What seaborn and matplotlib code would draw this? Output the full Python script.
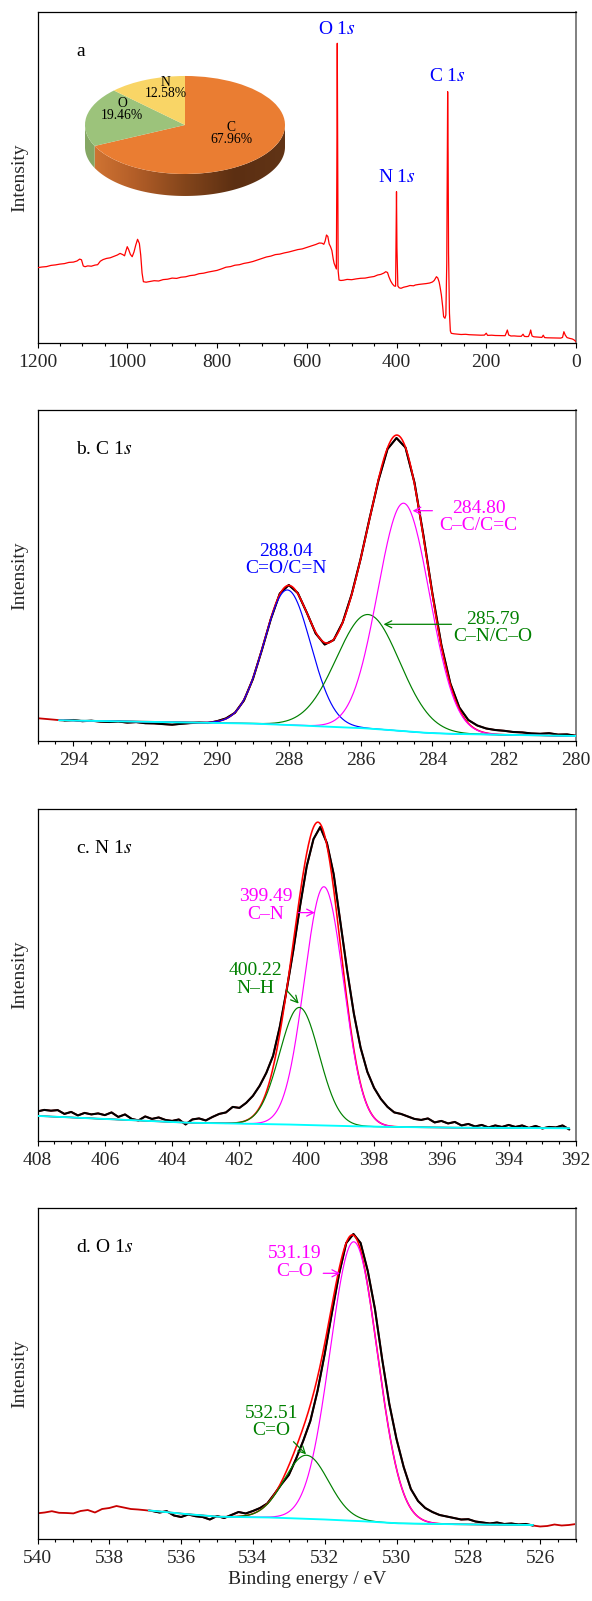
import numpy as np
import pandas as pd
import matplotlib
matplotlib.use("Agg")
import matplotlib.pyplot as plt
import seaborn as sns
from matplotlib.ticker import MultipleLocator, FuncFormatter
from matplotlib.patches import Polygon
from matplotlib.colors import LinearSegmentedColormap

# ---------------- survey spectrum (panel a) ----------------
survey_be = [1200, 1190, 1180, 1170, 1160, 1150, 1140, 1130, 1120, 1112, 1106, 1102, 1098, 1094,
             1088, 1080, 1072, 1066, 1060, 1054, 1046, 1038, 1030, 1022, 1016, 1010, 1006, 1003,
             1000, 997, 993, 989, 985, 981, 977, 973, 970, 967, 964, 958, 950, 940, 930, 920,
             910, 900, 890, 880, 870, 860, 850, 840, 830, 820, 810, 800, 790, 780, 770, 760,
             750, 740, 730, 720, 710, 700, 690, 680, 670, 660, 650, 640, 630, 620, 610, 600,
             590, 580, 572, 566, 562, 559, 556, 553, 550, 547, 544, 541, 539, 536, 534, 533,
             532, 531, 530, 528, 524, 518, 510, 500, 490, 480, 470, 460, 450, 442, 435, 428,
             424, 420, 417, 413, 409, 405, 402, 401, 400, 399, 397, 394, 390, 384, 376, 370,
             362, 358, 350, 342, 334, 326, 320, 316, 311, 308, 305, 303, 300, 297, 295, 292,
             290, 288, 287, 286, 285, 284, 282, 280, 278, 272, 264, 256, 246, 238, 228, 220,
             212, 204, 200, 197, 188, 180, 172, 164, 158, 155, 153, 150, 145, 138, 130, 122,
             118, 115, 110, 106, 103, 101, 98, 94, 88, 80, 76, 73, 70, 64, 56, 48, 40, 34,
             30, 27, 24, 20, 14, 8, 4, 0]
survey_int = [75.3, 76.0, 76.4, 77.6, 78.1, 78.9, 79.4, 80.6, 80.9, 82.0, 83.9, 83.2, 77.0, 76.3,
              77.1, 76.8, 77.9, 78.3, 81.8, 83.4, 84.6, 85.2, 86.6, 88.0, 89.6, 88.4, 87.2, 92.0,
              96.3, 93.5, 88.6, 86.3, 91.0, 98.0, 103.7, 99.5, 88.0, 70.0, 61.3, 60.8, 61.5, 62.3,
              62.0, 63.4, 63.8, 64.9, 64.6, 65.8, 66.2, 67.4, 67.9, 69.3, 69.8, 70.9, 71.8, 72.6,
              74.1, 75.8, 76.4, 77.8, 78.3, 79.6, 80.4, 81.5, 83.0, 84.5, 86.0, 86.9, 88.4, 88.9,
              90.1, 91.0, 92.2, 93.4, 94.1, 95.6, 97.0, 98.5, 100.0, 99.8, 98.7, 102.0, 108.0,
              106.5, 99.0, 96.3, 92.5, 84.0, 79.7, 76.3, 74.0, 170.0, 299.7, 190.0, 72.0, 63.0,
              62.5, 62.8, 63.6, 63.3, 64.1, 64.7, 64.9, 65.8, 66.5, 68.0, 68.6, 70.0, 71.3, 70.5,
              66.3, 62.0, 59.0, 57.0, 56.8, 110.0, 151.3, 95.0, 57.0, 55.2, 54.7, 55.8, 56.6,
              57.5, 57.2, 58.0, 58.6, 59.0, 59.4, 60.0, 61.0, 62.5, 66.3, 65.0, 61.0, 56.3, 48.0,
              36.0, 26.3, 24.7, 28.0, 80.0, 160.0, 251.3, 190.0, 90.0, 30.0, 12.0, 9.7, 9.2, 8.9,
              8.5, 8.7, 8.3, 8.1, 8.0, 7.8, 7.9, 9.8, 7.6, 7.8, 7.5, 7.4, 7.2, 7.3, 10.5, 13.0,
              8.0, 7.0, 7.1, 6.8, 6.7, 8.8, 6.6, 6.4, 6.5, 9.5, 13.0, 7.0, 6.2, 6.0, 5.8, 5.6,
              7.8, 5.4, 5.2, 5.1, 5.0, 4.8, 4.9, 5.6, 11.3, 8.0, 5.4, 4.6, 4.0, 3.0, 1.3]
survey_peaks = ["O 1$s$", "N 1$s$", "C 1$s$"]
survey_peak_be = [532, 400, 286]

# ---------------- surface composition (pie inset) ----------------
elements = ["C", "O", "N"]
atomic_pct = [67.96, 19.46, 12.58]

# ---------------- C 1s high-resolution ----------------
c1s_be = [295.00, 294.75, 294.50, 294.25, 294.00, 293.75, 293.50, 293.25, 293.00, 292.75,
          292.50, 292.25, 292.00, 291.75, 291.50, 291.25, 291.00, 290.75, 290.50, 290.25,
          290.00, 289.75, 289.50, 289.25, 289.00, 288.75, 288.50, 288.25, 288.00, 287.75,
          287.50, 287.25, 287.00, 286.75, 286.50, 286.25, 286.00, 285.75, 285.50, 285.25,
          285.00, 284.75, 284.50, 284.25, 284.00, 283.75, 283.50, 283.25, 283.00, 282.75,
          282.50, 282.25, 282.00, 281.75, 281.50, 281.25, 281.00, 280.75, 280.50, 280.25, 280.00]
c1s_int = [22.8, 22.0, 21.2, 20.4, 21.0, 19.8, 20.3, 19.4, 19.0, 19.5, 18.4, 18.9, 17.8, 17.6,
           16.9, 16.3, 17.2, 17.9, 18.4, 18.0, 19.8, 22.6, 28.2, 40.5, 62.0, 91.0, 122.0, 147.5,
           156.0, 148.0, 128.5, 107.5, 96.5, 101.0, 118.5, 146.5, 182.0, 222.5, 261.0, 292.0,
           303.0, 293.5, 258.5, 205.5, 147.5, 96.0, 57.5, 33.5, 21.0, 15.5, 12.5, 11.0, 10.2,
           9.0, 8.6, 7.6, 7.2, 7.8, 6.4, 6.6, 5.2]
c1s_fit_range = (280.0, 294.4)
c1s_bg_be = [294.4, 290.0, 289.0, 288.0, 287.0, 286.5, 286.0, 285.5, 285.0, 284.5, 284.0,
             283.5, 283.0, 280.0]
c1s_bg_int = [20.7, 18.1, 17.4, 16.0, 14.5, 13.8, 12.95, 11.8, 10.4, 8.9, 7.85, 7.2, 6.8, 5.0]
c1s_centers = [288.04, 285.79, 284.80]
c1s_heights = [135, 114, 228]
c1s_fwhm = [1.53, 2.07, 1.70]
c1s_species = ["C=O/C=N", "C\u2013N/C\u2013O", "C\u2013C/C=C"]

# ---------------- N 1s high-resolution ----------------
n1s_be = [408.0, 407.8, 407.6, 407.4, 407.2, 407.0, 406.8, 406.6, 406.4, 406.2, 406.0, 405.8,
          405.6, 405.4, 405.2, 405.0, 404.8, 404.6, 404.4, 404.2, 404.0, 403.8, 403.6, 403.4,
          403.2, 403.0, 402.8, 402.6, 402.4, 402.2, 402.0, 401.8, 401.6, 401.4, 401.2, 401.0,
          400.8, 400.6, 400.4, 400.2, 400.0, 399.8, 399.6, 399.4, 399.2, 399.0, 398.8, 398.6,
          398.4, 398.2, 398.0, 397.8, 397.6, 397.4, 397.2, 397.0, 396.8, 396.6, 396.4, 396.2,
          396.0, 395.8, 395.6, 395.4, 395.2, 395.0, 394.8, 394.6, 394.4, 394.2, 394.0, 393.8,
          393.6, 393.4, 393.2, 393.0, 392.8, 392.6, 392.4, 392.2]
n1s_int = [29.5, 31.0, 30.2, 30.8, 27.0, 29.0, 25.5, 28.0, 26.5, 27.5, 25.8, 28.5, 24.0, 26.5,
           22.0, 20.5, 24.5, 22.0, 23.5, 21.0, 20.0, 21.5, 16.5, 21.5, 22.5, 20.5, 24.0, 27.0,
           28.5, 34.0, 33.0, 38.0, 45.0, 55.0, 68.0, 85.0, 114.0, 150.0, 190.0, 234.0, 274.0,
           301.0, 313.0, 297.0, 266.0, 218.0, 170.0, 127.0, 93.0, 69.0, 53.0, 42.0, 34.0, 28.5,
           27.0, 24.5, 22.0, 21.0, 22.5, 18.5, 20.0, 17.5, 19.0, 15.5, 17.0, 14.5, 16.0, 13.5,
           15.5, 14.0, 16.0, 14.0, 15.5, 13.0, 15.0, 12.5, 14.0, 13.5, 15.5, 11.5]
n1s_fit_range = (392.2, 408.0)
n1s_bg_be = [408.0, 405.4, 403.6, 401.0, 400.0, 399.0, 398.0, 396.0, 392.2]
n1s_bg_int = [25.0, 21.0, 18.3, 16.8, 16.0, 15.0, 14.3, 13.4, 12.7]
n1s_centers = [399.49, 400.22]
n1s_heights = [238, 117]
n1s_fwhm = [1.37, 1.38]
n1s_species = ["C\u2013N", "N\u2013H"]

# ---------------- O 1s high-resolution ----------------
o1s_be = [540.0, 539.8, 539.6, 539.4, 539.2, 539.0, 538.8, 538.6, 538.4, 538.2, 538.0, 537.8,
          537.6, 537.4, 537.2, 537.0, 536.8, 536.6, 536.4, 536.2, 536.0, 535.8, 535.6, 535.4,
          535.2, 535.0, 534.8, 534.6, 534.4, 534.2, 534.0, 533.8, 533.6, 533.4, 533.2, 533.0,
          532.8, 532.6, 532.4, 532.2, 532.0, 531.8, 531.6, 531.4, 531.2, 531.0, 530.8, 530.6,
          530.4, 530.2, 530.0, 529.8, 529.6, 529.4, 529.2, 529.0, 528.8, 528.6, 528.4, 528.2,
          528.0, 527.8, 527.6, 527.4, 527.2, 527.0, 526.8, 526.6, 526.4, 526.2, 526.0, 525.8,
          525.6, 525.4, 525.2, 525.0]
o1s_int = [25.7, 26.5, 27.8, 26.2, 26.0, 25.6, 28.0, 29.0, 26.5, 30.0, 31.0, 33.0, 31.5, 30.0,
           29.5, 28.8, 28.0, 26.5, 27.8, 23.5, 22.0, 24.5, 22.8, 22.0, 19.5, 23.0, 21.0, 24.0,
           27.0, 25.5, 28.0, 31.0, 35.5, 45.0, 55.0, 64.0, 80.0, 98.0, 118.0, 148.0, 185.0,
           226.0, 265.0, 296.0, 305.0, 296.0, 268.0, 230.0, 180.0, 135.0, 100.0, 72.0, 50.0, 38.0,
           31.0, 27.0, 24.0, 22.5, 21.0, 19.5, 19.8, 17.5, 16.5, 15.5, 16.5, 15.0, 15.5, 14.5,
           15.0, 13.5, 12.5, 13.0, 14.5, 13.5, 14.0, 15.0]
o1s_fit_range = (526.2, 536.9)
o1s_bg_be = [536.9, 536.1, 535.0, 533.7, 532.3, 531.05, 530.0, 528.4, 526.2]
o1s_bg_int = [28.6, 25.7, 22.3, 21.7, 20.0, 18.0, 15.7, 14.7, 14.0]
o1s_centers = [531.19, 532.51]
o1s_heights = [279, 63.5]
o1s_fwhm = [1.55, 1.45]
o1s_species = ["C\u2013O", "C=O"]

# ---------------- styling ----------------
sns.set_theme(style="ticks")
plt.rcParams.update({
    "font.family": ["Liberation Serif", "DejaVu Serif"],
    "mathtext.fontset": "stix",
    "font.size": 14,
    "axes.linewidth": 0.9,
})

BLUE, GREEN, MAGENTA = "#0000ff", "#008000", "#ff00ff"
RAW_RED, FIT_RED, CYAN = "#c80000", "#ff0000", "#00ffff"

W, H = 592, 1601
fig = plt.figure(figsize=(W / 100, H / 100), dpi=100)


def px_axes(left, top, right, bottom):
    return fig.add_axes([left / W, 1 - bottom / H, (right - left) / W, (bottom - top) / H])


def line(ax, x, y, color, lw, z):
    sns.lineplot(x=np.asarray(x, float), y=np.asarray(y, float), ax=ax, color=color,
                 linewidth=lw, estimator=None, sort=False, zorder=z, legend=False)


def style_axes(ax, xhi, xlo, major, minor):
    ax.set_xlim(xhi, xlo)
    ax.set_ylim(0, 331)
    ax.xaxis.set_major_locator(MultipleLocator(major))
    ax.xaxis.set_minor_locator(MultipleLocator(minor))
    ax.xaxis.set_major_formatter(FuncFormatter(lambda v, p: f"{v:g}"))
    ax.set_yticks([])
    ax.set_xlabel("")
    ax.set_ylabel("Intensity", fontsize=14, labelpad=7)
    for s in ("left", "bottom", "top"):
        ax.spines[s].set_color("black")
        ax.spines[s].set_linewidth(0.9)
    ax.spines["right"].set_color("#808080")
    ax.spines["right"].set_linewidth(1.4)
    ax.tick_params(axis="x", which="major", direction="out", length=3.6, width=0.8,
                   labelsize=14, pad=4.5, color="black")
    ax.tick_params(axis="x", which="minor", direction="out", length=2.2, width=0.8,
                   color="black")


def peak(x, c, h, w):
    return h * np.exp(-4 * np.log(2) * ((x - c) / w) ** 2)


def detail(ax, be, inten, fit_range, bg_be, bg_int, centers, heights, fwhms, colors):
    be = np.asarray(be, float)
    inten = np.asarray(inten, float)
    lo, hi = fit_range
    line(ax, be, inten, RAW_RED, 1.3, 2)
    m = (be >= lo - 1e-9) & (be <= hi + 1e-9)
    line(ax, be[m], inten[m], "black", 1.5, 3)
    grid = np.linspace(hi, lo, 900)
    order = np.argsort(bg_be)
    bg = np.interp(grid, np.asarray(bg_be, float)[order], np.asarray(bg_int, float)[order])
    comps = [peak(grid, c, h, w) for c, h, w in zip(centers, heights, fwhms)]
    env = bg + np.sum(comps, axis=0)
    line(ax, grid, env, FIT_RED, 1.15, 4)
    for comp, col in zip(comps, colors):
        line(ax, grid, bg + comp, col, 0.85, 5)
    line(ax, grid, bg, CYAN, 1.35, 6)


def tag(ax, x, y, text, color):
    ax.text(x, y, text, color=color, ha="center", va="center", fontsize=14,
            linespacing=1.03, zorder=8)


def arrow(ax, tail, tip, color):
    ax.annotate("", xy=tip, xytext=tail, zorder=8,
                arrowprops=dict(arrowstyle="->,head_length=0.35,head_width=0.18",
                                color=color, lw=0.9, shrinkA=0, shrinkB=0))


def panel_label(ax, text):
    ax.text(0.072, 0.88, text, transform=ax.transAxes, ha="left", va="center",
            fontsize=14, color="black")


# ---------------- panel a: survey ----------------
ax_a = px_axes(37.5, 12, 576, 343)
line(ax_a, survey_be, survey_int, FIT_RED, 0.9, 3)
style_axes(ax_a, 1200, 0, 200, 50)
panel_label(ax_a, "a")
peak_label_h = [313.7, 165.7, 266.3]
for name, pos, hh in zip(survey_peaks, survey_peak_be, peak_label_h):
    ax_a.text(pos, hh, name, color=BLUE, ha="center", va="center", fontsize=14)

# pie inset with an extruded rim
pie_ax = px_axes(80, 70, 290, 200)
pie_colors = ["#ea7d32", "#9cc37b", "#f9d566"]
rim_maps = {
    "C": LinearSegmentedColormap.from_list("rimC", ["#d67835", "#b35e28", "#83451b", "#5c2f12", "#613416"]),
    "O": LinearSegmentedColormap.from_list("rimO", ["#86a865", "#7a9a5a"]),
    "N": LinearSegmentedColormap.from_list("rimN", ["#d8b44f", "#c9a545"]),
}
wedges, _ = pie_ax.pie(atomic_pct, colors=pie_colors, startangle=90, counterclock=False,
                       wedgeprops=dict(linewidth=0, zorder=4))
depth = 0.449
grad = np.linspace(0, 1, 256)[None, :]
for wdg, name in zip(wedges, elements):
    t1, t2 = wdg.theta1, wdg.theta2
    for shift in (-360, 0, 360):
        a, b = max(t1, 180 + shift), min(t2, 360 + shift)
        if b <= a:
            continue
        th = np.radians(np.linspace(a, b, 120))
        top = np.c_[np.cos(th), np.sin(th)]
        bot = np.c_[np.cos(th[::-1]), np.sin(th[::-1]) - depth]
        rim = Polygon(np.vstack([top, bot]), closed=True, transform=pie_ax.transData,
                      facecolor="none", edgecolor="none")
        pie_ax.add_patch(rim)
        im = pie_ax.imshow(grad, extent=(-1, 1, -1 - depth, 0.1), aspect="auto",
                           cmap=rim_maps[name], zorder=2, interpolation="bicubic")
        im.set_clip_path(rim)
pie_ax.set_aspect("auto")
pie_ax.set_xlim(-1.05, 1.05)
pie_ax.set_ylim(-1.531, 1.122)
pie_ax.axis("off")
pie_label_xy = [(0.46, -0.18), (-0.63, 0.31), (-0.19, 0.755)]
for name, pct, (lx, ly) in zip(elements, atomic_pct, pie_label_xy):
    pie_ax.text(lx, ly, f"{name}\n{pct:.2f}%", ha="center", va="center", fontsize=9.8,
                linespacing=0.88, zorder=6, color="black")

# ---------------- panel b: C 1s ----------------
ax_b = px_axes(37.5, 410, 576, 741)
detail(ax_b, c1s_be, c1s_int, c1s_fit_range, c1s_bg_be, c1s_bg_int,
       c1s_centers, c1s_heights, c1s_fwhm, [BLUE, GREEN, MAGENTA])
style_axes(ax_b, 295, 280, 2, 0.5)
panel_label(ax_b, "b. C 1$s$")
tag(ax_b, 288.08, 181, f"{c1s_centers[0]:.2f}\n{c1s_species[0]}", BLUE)
tag(ax_b, 282.32, 113, f"{c1s_centers[1]:.2f}\n{c1s_species[1]}", GREEN)
tag(ax_b, 282.71, 224, f"{c1s_centers[2]:.2f}\n{c1s_species[2]}", MAGENTA)
arrow(ax_b, (283.47, 116.7), (285.36, 116.7), GREEN)
arrow(ax_b, (284.0, 230.3), (284.55, 230.3), MAGENTA)

# ---------------- panel c: N 1s ----------------
ax_c = px_axes(37.5, 809, 576, 1141)
detail(ax_c, n1s_be, n1s_int, n1s_fit_range, n1s_bg_be, n1s_bg_int,
       n1s_centers, n1s_heights, n1s_fwhm, [MAGENTA, GREEN])
style_axes(ax_c, 408, 392, 2, 0.5)
panel_label(ax_c, "c. N 1$s$")
tag(ax_c, 401.21, 234.8, f"{n1s_centers[0]:.2f}\n{n1s_species[0]}", MAGENTA)
tag(ax_c, 401.52, 161, f"{n1s_centers[1]:.2f}\n{n1s_species[1]}", GREEN)
arrow(ax_c, (400.25, 227.7), (399.76, 227.7), MAGENTA)
arrow(ax_c, (400.59, 150), (400.24, 137), GREEN)

# ---------------- panel d: O 1s ----------------
ax_d = px_axes(37.5, 1208, 576, 1539)
detail(ax_d, o1s_be, o1s_int, o1s_fit_range, o1s_bg_be, o1s_bg_int,
       o1s_centers, o1s_heights, o1s_fwhm, [MAGENTA, GREEN])
style_axes(ax_d, 540, 525, 2, 0.5)
panel_label(ax_d, "d. O 1$s$")
tag(ax_d, 532.83, 276.5, f"{o1s_centers[0]:.2f}\n{o1s_species[0]}", MAGENTA)
tag(ax_d, 533.48, 117.3, f"{o1s_centers[1]:.2f}\n{o1s_species[1]}", GREEN)
arrow(ax_d, (532.04, 265.7), (531.57, 265.7), MAGENTA)
arrow(ax_d, (532.87, 97.3), (532.52, 84.7), GREEN)
ax_d.set_xlabel("Binding energy / eV", fontsize=14, labelpad=3)

fig.savefig("out.png", dpi=100, facecolor="white")
